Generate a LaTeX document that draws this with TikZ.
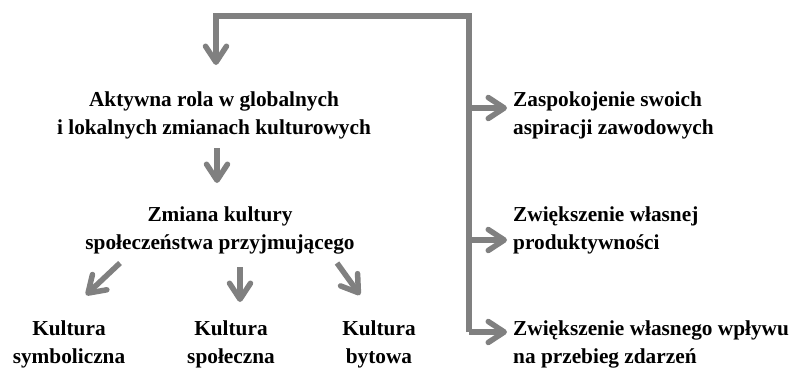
\documentclass[tikz,border=0pt]{standalone}
\usepackage{fontspec}
\setmainfont{Liberation Serif}
\usetikzlibrary{arrows.meta,positioning}
\definecolor{arrowgray}{HTML}{808080}

\begin{document}
\begin{tikzpicture}[x=1pt,y=-1pt,
    lbl/.style={font=\fontsize{21.3}{28}\selectfont\bfseries,inner sep=0pt},
    arr/.style={draw=arrowgray,line width=5.5pt,
      -{Straight Barb[length=16pt,width=21pt,round]}}]
    \useasboundingbox (0,0) rectangle (792,370);
    % texts
    \node[lbl,align=center] (aktywna) at (214,115)
      {Aktywna rola w globalnych\\i lokalnych zmianach kulturowych};
    \node[lbl,align=center] (zmiana) at (220,230)
      {Zmiana kultury\\społeczeństwa przyjmującego};
    \node[lbl,align=center] (symb) at (69,344) {Kultura\\symboliczna};
    \node[lbl,align=center] (spol) at (231,344) {Kultura\\społeczna};
    \node[lbl,align=center] (byt) at (379,344) {Kultura\\bytowa};
    \node[lbl,align=left,anchor=west] (aspir) at (513,115)
      {Zaspokojenie swoich\\aspiracji zawodowych};
    \node[lbl,align=left,anchor=west] (prod) at (513,230)
      {Zwiększenie własnej\\produktywności};
    \node[lbl,align=left,anchor=west] (wplyw) at (513,344)
      {Zwiększenie własnego wpływu\\na przebieg zdarzeń};
    % points of the connectors
    \coordinate (top) at (469,16);
    \coordinate (b1) at (469,108);
    \coordinate (b2) at (469,240);
    \coordinate (b3) at (469,332);
    \coordinate (aktin) at (216,65);
    \coordinate (aktout) at (217,148);
    \coordinate (zmin) at (217,183);
    \coordinate (zmL) at (120,263);
    \coordinate (zmM) at (240,267);
    \coordinate (zmR) at (337,263);
    \coordinate (symbin) at (86,295);
    \coordinate (spolin) at (240,302);
    \coordinate (bytin) at (360,295);
    % connectors
    \draw[arr] (b3) -- (top) -| (aktin);
    \draw[arr,shorten >=6pt] (b1) -- (b1 -| aspir.west);
    \draw[arr,shorten >=6pt] (b2) -- (b2 -| prod.west);
    \draw[arr,shorten >=6pt] (b3) -- (b3 -| wplyw.west);
    \draw[arr] (aktout) -- (zmin);
    \draw[arr] (zmL) -- (symbin);
    \draw[arr] (zmM) -- (spolin);
    \draw[arr] (zmR) -- (bytin);
  \end{tikzpicture}
\end{document}
